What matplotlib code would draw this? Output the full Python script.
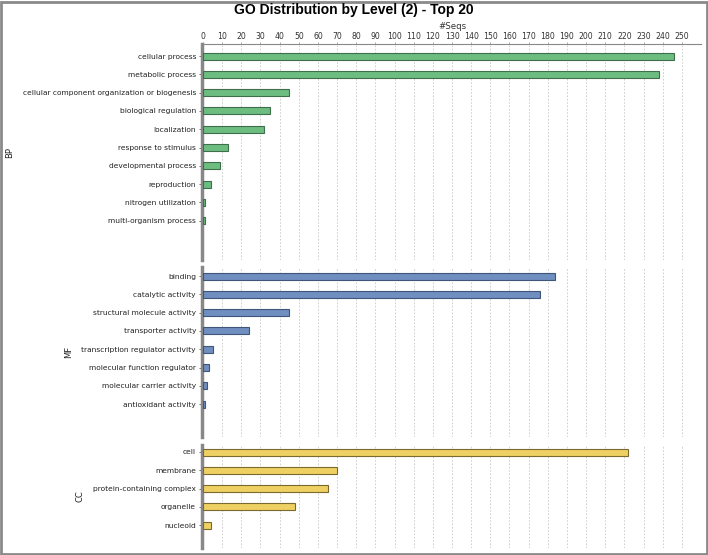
import matplotlib.pyplot as plt
import numpy as np
from matplotlib.patches import Rectangle

# data
bp_terms = ['cellular process', 'metabolic process',
            'cellular component organization or biogenesis',
            'biological regulation', 'localization', 'response to stimulus',
            'developmental process', 'reproduction', 'nitrogen utilization',
            'multi-organism process']
bp_counts = [246, 238, 45, 35, 32, 13, 9, 4, 1, 1]

mf_terms = ['binding', 'catalytic activity', 'structural molecule activity',
            'transporter activity', 'transcription regulator activity',
            'molecular function regulator', 'molecular carrier activity',
            'antioxidant activity']
mf_counts = [184, 176, 45, 24, 5, 3, 2, 1]

cc_terms = ['cell', 'membrane', 'protein-containing complex', 'organelle',
            'nucleoid']
cc_counts = [222, 70, 65, 48, 4]

x_ticks = np.arange(0, 251, 10)

W, H = 708, 555
fig = plt.figure(figsize=(W / 100, H / 100), dpi=100)
fig.patch.set_facecolor('white')

# outer border
fig.add_artist(Rectangle((0.001, 0.001), 0.998, 0.996, transform=fig.transFigure,
                         fill=False, edgecolor='#8a8a8a', linewidth=2))

fig.text(0.5, 1 - 10 / H, 'GO Distribution by Level (2) - Top 20',
         ha='center', va='center', fontsize=10, fontweight='bold',
         family='Liberation Sans')

left_px, right_px = 203, 701
slot_px = 18.3
# (name, terms, counts, face, edge, top px, bottom px, first bar offset px)
panels = [
    ('BP', bp_terms, bp_counts, '#6dbd80', '#3f6e4a', 44, 260, 12),
    ('MF', mf_terms, mf_counts, '#6f8fc0', '#40557a', 267, 437, 9),
    ('CC', cc_terms, cc_counts, '#efd062', '#7a6a30', 445, 548, 7),
]

for i, (name, terms, counts, face, edge, top, bot, off) in enumerate(panels):
    ax = fig.add_axes([left_px / W, 1 - bot / H, (right_px - left_px) / W, (bot - top) / H])
    y = np.arange(len(terms))
    ax.barh(y, counts, height=7 / slot_px, color=face, edgecolor=edge,
            linewidth=0.8, zorder=3)
    span = (bot - top) / slot_px
    y_top = -off / slot_px
    ax.set_ylim(y_top + span, y_top)
    ax.set_xlim(0, 260)
    ax.set_yticks(y)
    ax.set_yticklabels(terms)
    ax.tick_params(axis='y', length=2, width=0.6, color='#555555', pad=2,
                   labelsize=5.4, labelcolor='#222222')
    ax.set_xticks(x_ticks)
    ax.grid(axis='x', linestyle=(0, (2, 2)), color='#c8c8c8', linewidth=0.6, zorder=0)
    for s in ['top', 'right', 'bottom']:
        ax.spines[s].set_visible(False)
    ax.spines['left'].set_color('#888888')
    ax.spines['left'].set_linewidth(2.5)
    ax.spines['left'].set_position(('outward', 1))
    ax.set_ylabel(name, fontsize=6, color='#222222', labelpad=6)
    if i == 0:
        ax.xaxis.tick_top()
        ax.xaxis.set_label_position('top')
        ax.spines['top'].set_visible(True)
        ax.spines['top'].set_color('#888888')
        ax.spines['top'].set_linewidth(0.8)
        ax.tick_params(axis='x', labelsize=5.6, length=1.5, width=0.5,
                       color='#888888', pad=1, labelcolor='#333333')
        ax.set_xlabel('#Seqs', fontsize=6.2, color='#333333', labelpad=2)
    else:
        ax.tick_params(axis='x', bottom=False, labelbottom=False)

fig.savefig('out.png', dpi=100)
